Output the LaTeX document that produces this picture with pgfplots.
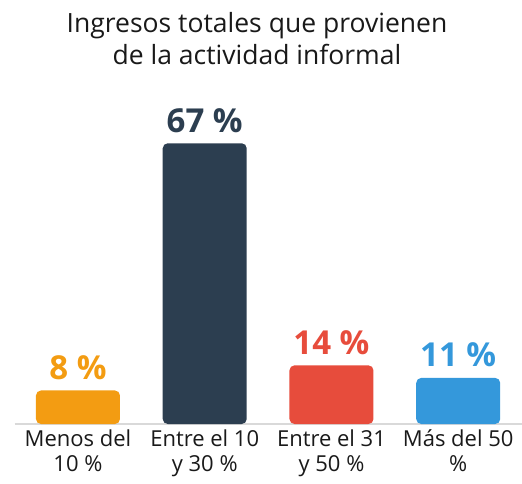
\documentclass[border=0pt]{standalone}
\usepackage{fontspec}
\setmainfont{Open Sans}
\usepackage{pgfplots}
\pgfplotsset{compat=1.18}
\definecolor{cOrange}{HTML}{F39C12}
\definecolor{cNavy}{HTML}{2C3E50}
\definecolor{cRed}{HTML}{E74C3C}
\definecolor{cBlue}{HTML}{3498DB}
\definecolor{cBase}{HTML}{D9D9D9}
\begin{document}
\begin{tikzpicture}
\useasboundingbox (0,0) rectangle (522pt,483pt);
\node[anchor=base, font=\fontsize{26.5}{30}\selectfont, text=black!90] at (257pt,450pt) {Ingresos totales que provienen};
\node[anchor=base, font=\fontsize{26.5}{30}\selectfont, text=black!90] at (257pt,418pt) {de la actividad informal};
\begin{axis}[
  at={(14.6pt,59pt)}, anchor=south west,
  scale only axis, width=507pt, height=335.2pt,
  xmin=-0.5, xmax=3.5, ymin=0, ymax=80,
  clip=false,
  axis x line*=bottom, axis y line=none,
  x axis line style={draw=cBase, line width=1.5pt, -},
  xtick={0,1,2,3},
  xticklabels={{Menos del\\10 \%},{Entre el 10\\y 30 \%},{Entre el 31\\y 50 \%},{Más del 50\\\%}},
  xticklabel style={align=center, font=\fontsize{22}{25}\selectfont, text=black!90, yshift=-2pt},
  major tick length=0pt,
  ybar, bar width=84pt,
  /pgf/number format/assume math mode=true,
  nodes near coords={\pgfmathprintnumber{\pgfplotspointmeta} \%},
  every node near coord/.append style={anchor=base, yshift=11pt, font=\bfseries\fontsize{33}{34}\selectfont},
]
\addplot[bar shift=0pt, fill=cOrange, draw=none, rounded corners=5pt, every node near coord/.append style={text=cOrange}] coordinates {(0,8)};
\addplot[bar shift=0pt, fill=cNavy, draw=none, rounded corners=5pt, every node near coord/.append style={text=cNavy}] coordinates {(1,67)};
\addplot[bar shift=0pt, fill=cRed, draw=none, rounded corners=5pt, every node near coord/.append style={text=cRed}] coordinates {(2,14)};
\addplot[bar shift=0pt, fill=cBlue, draw=none, rounded corners=5pt, every node near coord/.append style={text=cBlue}] coordinates {(3,11)};
\end{axis}
\end{tikzpicture}
\end{document}
